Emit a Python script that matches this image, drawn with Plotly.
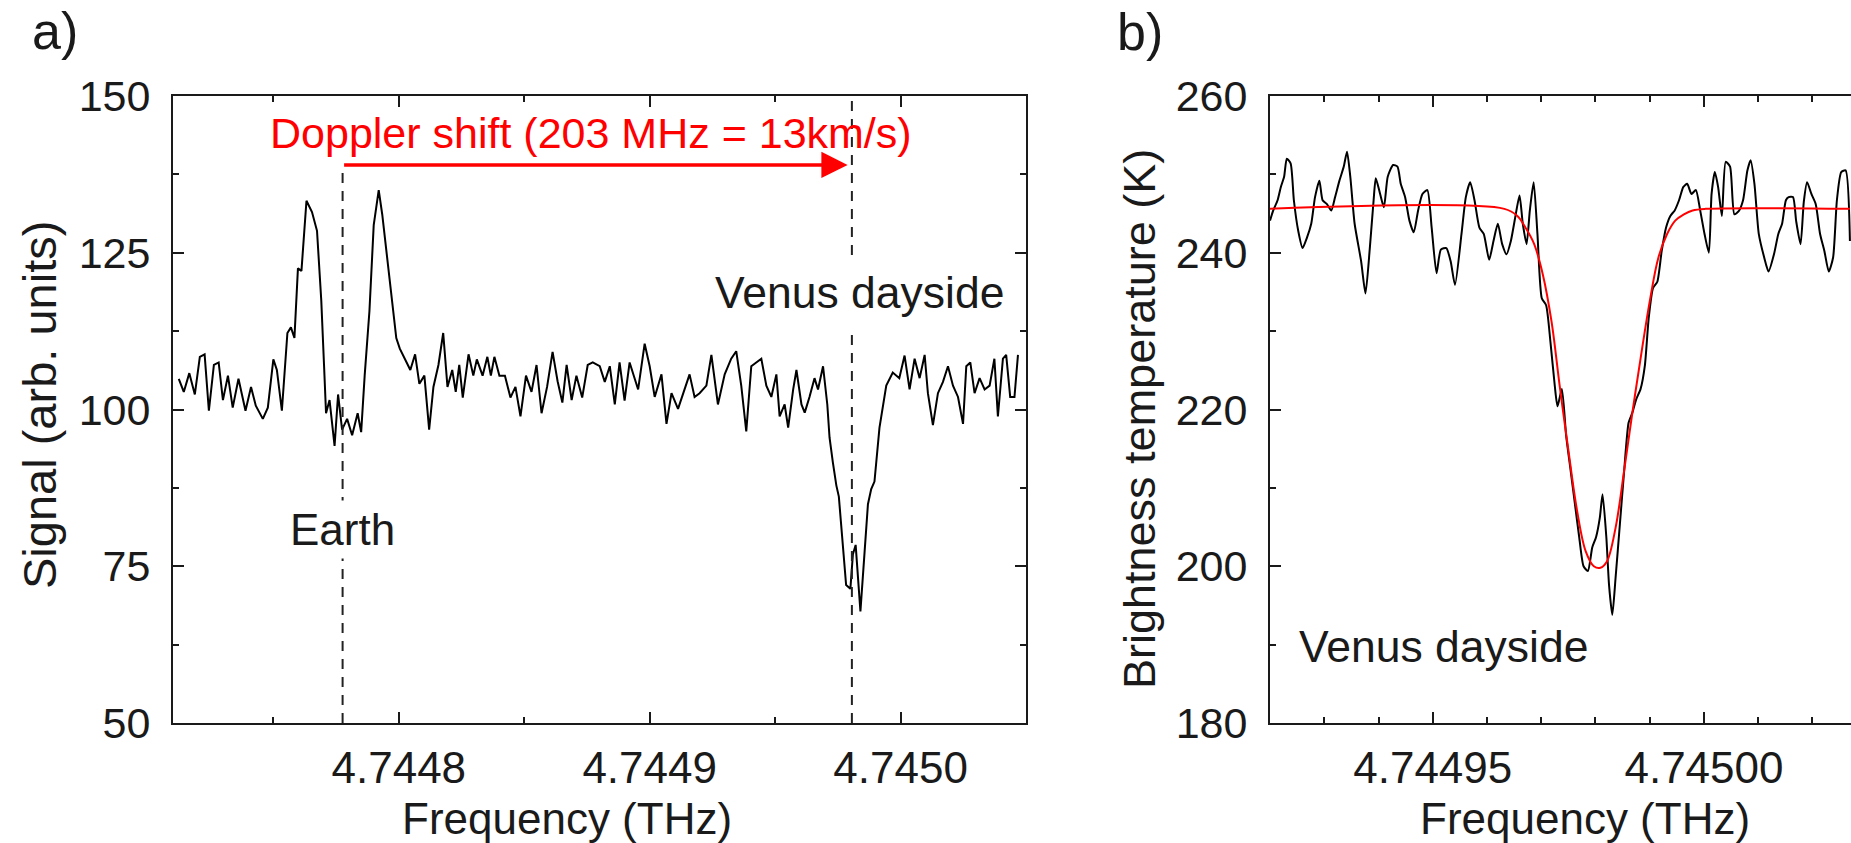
import plotly.graph_objects as go

W, H = 1851, 843

# ---------------- Panel a data (frequency offset in MHz from 4.7448 THz) ----------------
F0_A = 4.7448
dfreq_a_mhz = [
    -87.7, -85.7, -83.5, -81.3, -79.3, -77.4, -75.7, -73.7, -71.8, -70.1,
    -68.1, -66.2, -63.9, -61.1, -58.9, -57.0, -54.2, -52.2, -50.0, -48.6,
    -46.6, -44.4, -43.0, -41.6, -40.2, -38.8, -36.8, -34.6, -32.6, -30.9,
    -29.8, -29.0, -27.6, -25.6, -24.2, -22.6, -20.6, -18.6, -16.4, -15.0,
    -13.6, -11.7, -10.0, -8.0, -6.6, -4.7, -2.4, -1.0, 0.4, 2.6,
    4.6, 6.5, 8.2, 10.2, 12.1, 13.8, 15.8, 17.7, 19.4, 21.3,
    22.7, 24.1, 25.5, 27.8, 29.7, 31.1, 33.4, 35.3, 36.7, 38.1,
    40.1, 42.3, 44.5, 46.5, 48.5, 50.7, 52.9, 54.9, 56.9, 59.1,
    61.3, 63.3, 65.2, 66.9, 68.9, 70.8, 73.1, 75.3, 77.3,
    80.1, 82.1, 84.1, 86.1, 88.0, 90.0, 92.0, 93.4, 95.4, 98.0,
    100.0, 102.0, 104.7, 106.7, 108.7, 111.3, 113.3, 115.9, 117.9, 119.9,
    122.6, 124.6, 127.2, 129.9, 132.5, 134.5, 136.5, 138.5, 140.5, 142.5,
    144.5, 146.5, 148.5, 150.5, 151.8, 153.8, 155.2, 157.2, 158.5, 160.5,
    161.8, 163.7, 165.7, 167.1, 169.1, 170.8, 171.7, 173.0, 174.4, 175.4,
    176.8, 178.3, 180.0, 181.0, 182.1, 183.0, 184.0, 185.7, 187.0, 188.3,
    189.6, 191.6, 194.3, 196.9, 199.5, 201.6, 203.6, 205.6, 207.6, 209.6,
    210.9, 212.9, 214.9, 216.9, 218.9, 220.9, 222.9, 224.9, 226.2, 227.8,
    229.5, 231.5, 233.5, 235.5, 237.4, 238.8, 240.8, 242.1, 243.7, 245.4,
    246.8,
]
signal_a = [
    104.9, 102.8, 105.8, 102.4, 108.4, 108.8, 99.8, 107.1, 107.5, 101.5,
    105.4, 100.3, 104.9, 99.8, 103.6, 100.6, 98.5, 100.3, 108.0, 106.3,
    99.8, 112.2, 113.1, 111.4, 122.5, 122.1, 133.3, 131.5, 128.5, 117.4,
    107.1, 99.4, 101.5, 94.2, 102.4, 96.8, 98.5, 95.9, 99.4, 96.4,
    105.4, 115.7, 129.4, 135.0, 131.1, 124.2, 115.7, 111.4, 109.7, 108.0,
    106.3, 108.8, 104.1, 105.4, 96.8, 103.6, 107.1, 112.2, 103.6, 106.3,
    102.8, 107.1, 101.9, 108.8, 105.4, 108.0, 105.4, 108.4, 105.4, 108.4,
    105.4, 105.4, 101.9, 103.6, 98.9, 105.4, 102.8, 107.1, 99.4, 103.6,
    109.2, 104.5, 101.1, 107.1, 101.5, 105.4, 101.9, 107.1, 107.5,
    106.9, 104.4, 106.9, 100.8, 107.5, 101.4, 107.5, 105.6, 103.2, 110.5,
    106.9, 102.0, 105.6, 97.7, 102.6, 100.1, 102.6, 105.6, 102.0, 102.6,
    103.8, 108.7, 100.8, 105.6, 108.1, 109.3, 103.8, 96.5, 106.9, 107.5,
    108.1, 103.8, 102.0, 105.6, 98.9, 100.8, 97.1, 103.2, 106.3, 100.8,
    99.5, 102.0, 105.0, 103.2, 106.9, 100.8, 95.5, 91.6, 87.9, 86.1,
    79.4, 72.0, 71.4, 76.9, 78.4, 73.3, 67.8, 77.5, 84.9, 87.3,
    88.5, 97.1, 103.8, 105.9, 105.0, 108.6, 103.2, 108.1, 105.0, 108.7,
    102.6, 97.5, 102.6, 104.4, 106.9, 103.8, 102.0, 97.7, 106.9, 107.5,
    102.6, 105.0, 103.2, 103.8, 108.1, 98.9, 108.1, 108.7, 102.0, 102.0,
    108.7,
]

# Reference lines (THz) and arrow height
earth_line_thz = 4.7447776
venus_line_thz = 4.7449806
arrow_tip_thz = 4.7449789
arrow_level = 139.0

# ---------------- Panel b data (frequency offset in MHz from 4.74500 THz) ----------------
F0_B = 4.745
dfreq_b_mhz = [
    -80.0, -79.4, -78.6, -78.0, -77.4, -76.9, -76.2, -75.6, -74.8, -74.0,
    -73.2, -72.4, -71.7, -70.9, -70.3, -69.5, -68.7, -68.0, -67.2, -66.4,
    -65.8, -65.2, -64.4, -63.2, -62.4, -61.6, -60.9, -60.5, -59.7, -59.0,
    -58.3, -57.3, -56.5, -55.9, -55.1, -54.3, -53.5, -52.7, -51.9, -51.0,
    -50.2, -49.3, -48.5, -47.5, -46.7, -45.9, -44.7, -43.9, -43.1, -42.3,
    -41.4, -40.6, -39.6, -38.8, -38.0, -37.2, -36.4, -35.6, -34.8, -34.0,
    -33.4, -32.7, -32.1, -31.4, -30.7, -29.9, -29.1, -28.3, -27.5, -27.0,
    -26.2, -25.4, -24.6, -23.8, -23.0, -22.2, -21.4, -20.6, -19.9, -19.2,
    -18.7, -18.0, -17.5, -16.9, -16.3, -15.5, -14.7, -13.9, -13.2, -12.5,
    -11.7, -10.9, -10.2, -9.4, -8.6, -7.8, -7.0, -6.2, -5.4, -4.6,
    -3.8, -3.1, -2.3, -1.5, -0.7, 0.1, 0.9, 1.4, 2.0, 2.6,
    3.3, 4.0, 4.8, 5.6, 6.4, 7.2, 8.0, 8.6, 9.3, 10.1,
    11.1, 11.9, 12.9, 13.7, 14.4, 15.1, 15.6, 16.4, 17.0, 17.8,
    18.4, 19.0, 19.8, 20.6, 21.4, 22.2, 23.0, 23.8, 24.5, 25.3,
    26.1, 26.9,
]
tb_b = [
    244.1, 245.4, 246.7, 248.4, 249.7, 252.0, 251.4, 246.7, 242.8, 240.6,
    241.9, 243.7, 247.1, 249.2, 246.7, 246.2, 245.4, 247.1, 249.2, 251.0,
    252.9, 249.7, 243.7, 238.9, 234.8, 240.6, 246.7, 249.5, 247.5, 245.8,
    249.7, 251.2, 251.0, 248.8, 247.1, 244.1, 242.6, 245.4, 247.5, 248.0,
    243.2, 237.4, 240.4, 240.6, 238.9, 235.9, 242.4, 247.1, 249.0, 246.7,
    243.2, 242.4, 239.1, 241.5, 243.7, 241.1, 239.8, 241.5, 244.5, 247.3,
    243.7, 241.1, 245.4, 249.0, 242.4, 234.2, 233.3, 228.6, 223.0, 220.4,
    222.6, 216.6, 212.3, 208.0, 203.7, 200.0, 199.4, 202.4, 203.7, 206.2,
    209.2, 203.7, 197.6, 193.8, 198.5, 205.4, 212.3, 218.3, 219.6, 221.3,
    222.6, 225.6, 231.6, 235.5, 236.3, 240.2, 243.2, 244.7, 245.4, 246.7,
    248.4, 248.8, 247.5, 248.0, 245.4, 242.4, 240.0, 247.5, 250.3, 248.4,
    244.7, 251.6, 251.0, 244.9, 245.3, 246.7, 250.5, 251.8, 248.8, 242.4,
    239.4, 237.6, 239.8, 242.4, 243.7, 246.7, 247.1, 247.1, 244.0, 241.1,
    246.5, 249.0, 247.5, 246.2, 242.4, 240.2, 237.6, 239.4, 246.7, 250.3,
    250.5, 241.5,
]
dfreq_fit_mhz = [
    -80.2, -36.8, -34.4, -32.9, -31.3, -29.7, -28.1, -26.6, -25.0, -23.4,
    -21.8, -20.3, -19.1, -17.9, -16.3, -14.7, -13.2, -11.6, -10.0, -8.4,
    -6.8, -5.3, -3.7, -2.1, 0.3, 26.9,
]
tb_fit = [
    245.6, 245.6, 244.7, 243.2, 241.1, 237.2, 231.2, 223.0, 214.8, 207.1,
    201.9, 200.0, 199.8, 200.6, 204.9, 212.3, 219.6, 226.9, 233.8, 239.4,
    242.4, 244.1, 244.9, 245.4, 245.6, 245.6,
]

freq_a = [F0_A + d * 1e-6 for d in dfreq_a_mhz]
freq_b = [F0_B + d * 1e-6 for d in dfreq_b_mhz]
freq_fit = [F0_B + d * 1e-6 for d in dfreq_fit_mhz]

FONT = "Liberation Sans, Arial, sans-serif"
TXT = "#1a1a1a"
AX = "#1a1a1a"

fig = go.Figure()
fig.add_trace(go.Scatter(x=freq_a, y=signal_a, mode="lines", xaxis="x", yaxis="y",
                         line=dict(color="black", width=2), showlegend=False))
fig.add_trace(go.Scatter(x=freq_b, y=tb_b, mode="lines", xaxis="x2", yaxis="y2",
                         line=dict(color="black", width=2, shape="spline", smoothing=0.6),
                         showlegend=False))
fig.add_trace(go.Scatter(x=freq_fit, y=tb_fit, mode="lines", xaxis="x2", yaxis="y2",
                         line=dict(color="#ff0000", width=2, shape="spline", smoothing=1.0),
                         showlegend=False))


def px_x(p):
    return p / W


def px_y(p):
    return 1 - p / H


axis_common = dict(
    showgrid=False, zeroline=False, showline=True, linecolor=AX, linewidth=2,
    ticks="inside", ticklen=11, tickwidth=2, tickcolor=AX, automargin=False,
)
xfont = dict(family=FONT, size=44, color=TXT)
yfont = dict(family=FONT, size=43, color=TXT)

fig.update_layout(
    template="none",
    width=W, height=H,
    margin=dict(l=0, r=0, t=0, b=0, pad=0, autoexpand=False),
    paper_bgcolor="white", plot_bgcolor="white",
    font=dict(family=FONT, color=TXT),
    showlegend=False,
    xaxis=dict(domain=[px_x(173), px_x(1026)], range=[4.74471, 4.74505],
               tick0=4.7448, dtick=0.0001, tickformat=".4f", mirror="ticks",
               minor=dict(dtick=0.00005, ticks="inside", ticklen=6, tickwidth=2, tickcolor=AX),
               ticklabelstandoff=5, anchor="y", tickfont=xfont, **axis_common),
    yaxis=dict(domain=[px_y(723), px_y(96)], range=[50, 150],
               tick0=50, dtick=25, mirror="ticks",
               minor=dict(dtick=12.5, ticks="inside", ticklen=6, tickwidth=2, tickcolor=AX),
               ticklabelstandoff=12, anchor="x", tickfont=yfont, **axis_common),
    xaxis2=dict(domain=[px_x(1270), 1.0], range=[4.74492, 4.7450271],
                tick0=4.74495, dtick=0.00005, tickformat=".5f", mirror="ticks",
                minor=dict(dtick=0.00001, ticks="inside", ticklen=6, tickwidth=2, tickcolor=AX),
                ticklabelstandoff=5, anchor="y2", tickfont=xfont, **axis_common),
    yaxis2=dict(domain=[px_y(723), px_y(96)], range=[180, 260],
                tick0=180, dtick=20, mirror=False,
                minor=dict(dtick=10, ticks="inside", ticklen=6, tickwidth=2, tickcolor=AX),
                ticklabelstandoff=12, anchor="x2", tickfont=yfont, **axis_common),
)

# dashed reference lines
fig.add_shape(type="line", xref="x", yref="y", x0=earth_line_thz, x1=earth_line_thz,
              y0=50, y1=arrow_level, line=dict(color="#222222", width=2, dash="10px,8px"))
fig.add_shape(type="line", xref="x", yref="y", x0=venus_line_thz, x1=venus_line_thz,
              y0=50, y1=150, line=dict(color="#222222", width=2, dash="10px,8px"))

C = dict(xanchor="center", yanchor="middle", showarrow=False)
ann = []
# Doppler arrow
ann.append(dict(x=arrow_tip_thz, y=arrow_level, ax=earth_line_thz, ay=arrow_level,
                xref="x", yref="y", axref="x", ayref="y", text="", showarrow=True,
                arrowhead=2, arrowsize=1.5, arrowwidth=3.5, arrowcolor="#ff0000",
                standoff=0, startstandoff=0))
ann.append(dict(x=F0_A + 76.7e-6, y=144.1, xref="x", yref="y",
                text="Doppler shift (203 MHz = 13km/s)",
                font=dict(family=FONT, size=43, color="#ff0000"), **C))
ann.append(dict(x=earth_line_thz, y=80.8, xref="x", yref="y", text="Earth",
                bgcolor="white", borderpad=4,
                font=dict(family=FONT, size=44, color=TXT), **C))
ann.append(dict(x=F0_A + 183.7e-6, y=118.7, xref="x", yref="y", text="Venus dayside",
                bgcolor="white", borderpad=10,
                font=dict(family=FONT, size=44.5, color=TXT), **C))
ann.append(dict(x=F0_B - 48.1e-6, y=189.8, xref="x2", yref="y2", text="Venus dayside",
                font=dict(family=FONT, size=44.5, color=TXT), **C))

# axis titles and panel labels (paper coords)
ann.append(dict(x=px_x(567), y=px_y(818), xref="paper", yref="paper",
                text="Frequency (THz)", font=dict(family=FONT, size=44, color=TXT), **C))
ann.append(dict(x=px_x(1585), y=px_y(818), xref="paper", yref="paper",
                text="Frequency (THz)", font=dict(family=FONT, size=44, color=TXT), **C))
ann.append(dict(x=px_x(39), y=px_y(405), xref="paper", yref="paper", textangle=-90,
                text="Signal (arb. units)", font=dict(family=FONT, size=47, color=TXT), **C))
ann.append(dict(x=px_x(1139), y=px_y(419), xref="paper", yref="paper", textangle=-90,
                text="Brightness temperature (K)", font=dict(family=FONT, size=45, color=TXT), **C))
ann.append(dict(x=px_x(55), y=px_y(31), xref="paper", yref="paper",
                text="a)", font=dict(family=FONT, size=52, color=TXT), **C))
ann.append(dict(x=px_x(1140), y=px_y(32), xref="paper", yref="paper",
                text="b)", font=dict(family=FONT, size=52, color=TXT), **C))

fig.update_layout(annotations=ann)

fig.write_html(
    "out.html",
    config={"displayModeBar": False},
    post_script="document.body.style.margin='0px';document.body.style.overflow='hidden';",
)
